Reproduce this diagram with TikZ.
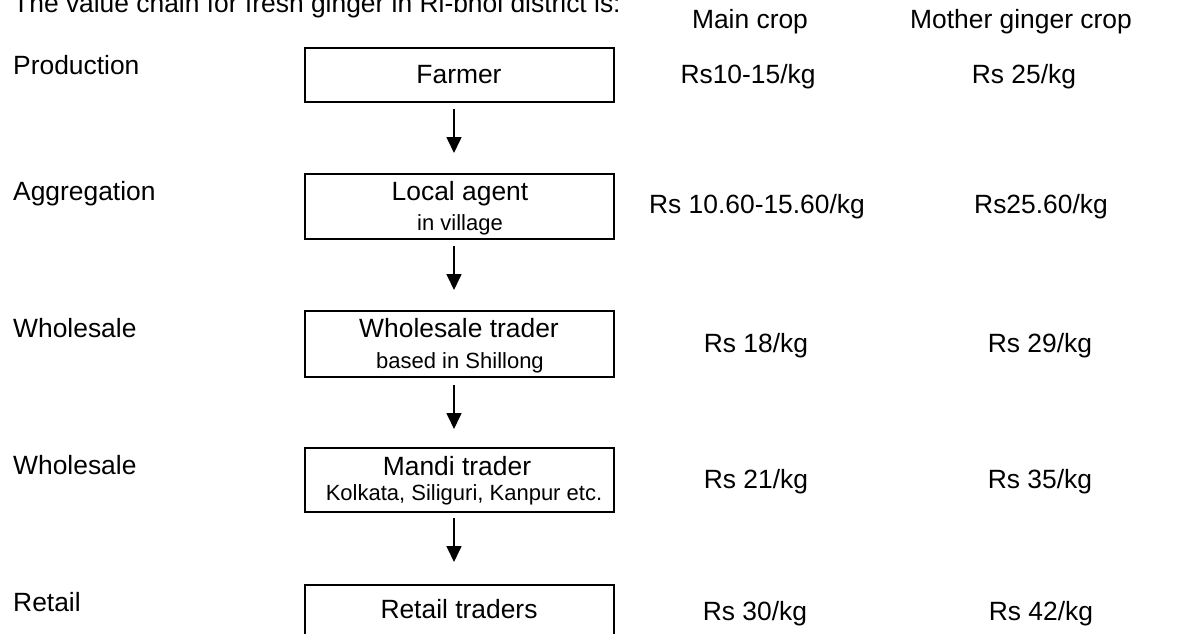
\documentclass[tikz,border=0pt]{standalone}
\usepackage{fontspec}
\setmainfont{Liberation Sans}
\usetikzlibrary{arrows.meta,calc}
\tikzset{
  stagebox/.style={draw, line width=1.3pt, minimum width=309pt, inner sep=0pt, outer sep=0pt},
  big/.style={font=\fontsize{26.4}{31}\selectfont, inner sep=0pt, anchor=base},
  bigleft/.style={big, anchor=base west},
  small/.style={font=\fontsize{22}{26}\selectfont, inner sep=0pt, anchor=base},
  flow/.style={line width=1.6pt, -{Triangle[length=16pt,width=15pt]}},
}
\begin{document}
\begin{tikzpicture}[x=1pt, y=-1pt]
  \useasboundingbox (0,0) rectangle (1187,633);
  \clip (0,0) rectangle (1187,633);

  % heading and column titles
  \node[bigleft] (title) at (13,12) {The value chain for fresh ginger in Ri-bhoi district is:};
  \node[big] (hmain) at (750,28) {Main crop};
  \node[big] (hmother) at (1021,28) {Mother ginger crop};

  % stage names
  \node[bigleft] (s1) at (13,74)  {Production};
  \node[bigleft] (s2) at (13,200) {Aggregation};
  \node[bigleft] (s3) at (13,337) {Wholesale};
  \node[bigleft] (s4) at (13,474) {Wholesale};
  \node[bigleft] (s5) at (13,611) {Retail};

  % actor boxes
  \node[stagebox, minimum height=54pt] (farmer)    at (459.5,75)    {};
  \node[stagebox, minimum height=65pt] (local)     at (459.5,206.5) {};
  \node[stagebox, minimum height=66pt] (wholesale) at (459.5,344)   {};
  \node[stagebox, minimum height=64pt] (mandi)     at (459.5,480)   {};
  \node[stagebox, minimum height=65pt] (retail)    at (459.5,617.5) {};

  % box texts
  \node[big]   (t1)  at (459,83)  {Farmer};
  \node[big]   (t2)  at (460,200) {Local agent};
  \node[small] (t2b) at (460,230) {in village};
  \node[big]   (t3)  at (459,337) {Wholesale trader};
  \node[small] (t3b) at (460,368) {based in Shillong};
  \node[big]   (t4)  at (457,475) {Mandi trader};
  \node[small] (t4b) at (464,500) {Kolkata, Siliguri, Kanpur etc.};
  \node[big]   (t5)  at (459,618) {Retail traders};

  % flow arrows
  \draw[flow] ($(farmer.south)+(-5.5,7)$)    -- ($(local.north)+(-5.5,-21)$);
  \draw[flow] ($(local.south)+(-5.5,7)$)     -- ($(wholesale.north)+(-5.5,-21)$);
  \draw[flow] ($(wholesale.south)+(-5.5,8)$) -- ($(mandi.north)+(-5.5,-19)$);
  \draw[flow] ($(mandi.south)+(-5.5,6)$)     -- ($(retail.north)+(-5.5,-23)$);

  % prices, main crop
  \node[big] (m1) at (748,83)  {Rs10-15/kg};
  \node[big] (m2) at (757,213) {Rs 10.60-15.60/kg};
  \node[big] (m3) at (756,352) {Rs 18/kg};
  \node[big] (m4) at (756,488) {Rs 21/kg};
  \node[big] (m5) at (755,620) {Rs 30/kg};

  % prices, mother ginger crop
  \node[big] (g1) at (1024,83)  {Rs 25/kg};
  \node[big] (g2) at (1041,213) {Rs25.60/kg};
  \node[big] (g3) at (1040,352) {Rs 29/kg};
  \node[big] (g4) at (1040,488) {Rs 35/kg};
  \node[big] (g5) at (1041,620) {Rs 42/kg};
\end{tikzpicture}
\end{document}
